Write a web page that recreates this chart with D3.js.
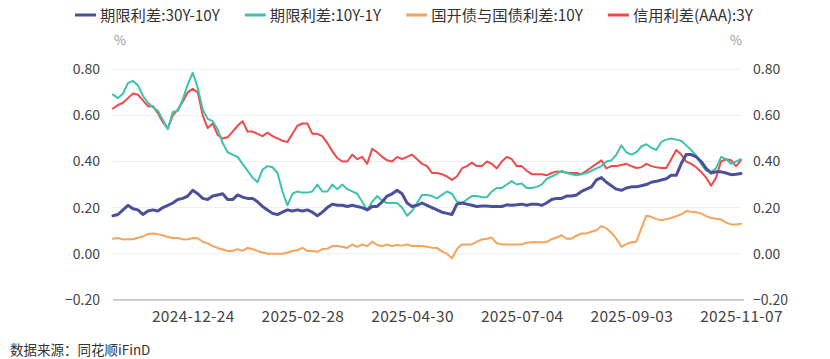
<!DOCTYPE html>
<html><head><meta charset="utf-8">
<script src="https://cdn.jsdelivr.net/npm/d3@7/dist/d3.min.js"></script>
<style>
html,body{margin:0;padding:0;background:#fff;}
svg{display:block;font-family:"Noto Sans CJK SC","Noto Sans",sans-serif;}
</style></head>
<body><svg id="c" width="830" height="359"></svg>
<script>
const seriesNames = ["期限利差:30Y-10Y","期限利差:10Y-1Y","国开债与国债利差:10Y","信用利差(AAA):3Y"];
const seriesColors = ["#4B509A","#3EC2AE","#F6A35B","#EF4A4A"];
const xTickIndex = [16,38,60,82,104,126];
const xTickLabels = ["2024-12-24","2025-02-28","2025-04-30","2025-07-04","2025-09-03","2025-11-07"];
const yTicks = [-0.2,0,0.2,0.4,0.6,0.8];
const sourceText = "数据来源：同花顺iFinD";

const spread30y10y = [
0.165,0.17,0.19,0.21,0.195,0.19,0.17,0.185,0.19,0.185,0.20,0.21,0.22,0.235,0.24,0.25,0.275,0.26,0.24,0.235,0.25,0.255,
0.26,0.235,0.235,0.255,0.245,0.24,0.24,0.225,0.205,0.19,0.175,0.17,0.18,0.19,0.185,0.19,0.185,0.19,0.18,0.165,0.18,
0.20,0.215,0.21,0.21,0.205,0.21,0.205,0.20,0.19,0.205,0.205,0.225,0.25,0.26,0.275,0.26,0.22,0.205,0.21,0.22,0.21,
0.20,0.19,0.18,0.175,0.17,0.215,0.22,0.215,0.21,0.205,0.207,0.207,0.205,0.205,0.205,0.212,0.21,0.212,0.215,0.21,0.215,
0.215,0.21,0.22,0.235,0.24,0.24,0.25,0.25,0.255,0.27,0.28,0.29,0.32,0.33,0.31,0.295,0.28,0.275,0.285,0.29,0.29,
0.295,0.30,0.31,0.314,0.32,0.325,0.34,0.34,0.39,0.43,0.43,0.42,0.40,0.37,0.35,0.355,0.355,0.35,0.343,0.345,0.348];

const spread10y1y = [
0.69,0.675,0.695,0.74,0.75,0.73,0.685,0.655,0.635,0.62,0.58,0.54,0.615,0.62,0.67,0.735,0.785,0.72,0.625,0.585,0.575,0.54,
0.48,0.44,0.43,0.42,0.39,0.36,0.33,0.31,0.365,0.38,0.375,0.35,0.27,0.21,0.26,0.27,0.265,0.265,0.27,0.30,0.27,
0.27,0.30,0.28,0.30,0.28,0.27,0.26,0.225,0.19,0.225,0.25,0.23,0.22,0.22,0.22,0.20,0.165,0.185,0.22,0.255,0.255,
0.25,0.24,0.255,0.27,0.26,0.225,0.22,0.235,0.25,0.25,0.245,0.245,0.27,0.285,0.285,0.30,0.315,0.30,0.305,0.285,0.285,
0.29,0.30,0.325,0.335,0.345,0.36,0.35,0.345,0.34,0.345,0.35,0.36,0.37,0.38,0.40,0.405,0.43,0.47,0.44,0.43,0.44,
0.465,0.475,0.46,0.45,0.485,0.495,0.50,0.495,0.49,0.47,0.45,0.425,0.39,0.36,0.355,0.37,0.42,0.41,0.39,0.40,0.41];

const cdbSpread10y = [
0.065,0.068,0.062,0.063,0.063,0.069,0.075,0.085,0.088,0.085,0.08,0.072,0.068,0.068,0.062,0.063,0.068,0.067,0.052,0.045,0.033,0.025,
0.018,0.012,0.012,0.02,0.012,0.025,0.02,0.012,0.005,0.0,0.0,0.0,0.0,0.005,0.012,0.015,0.025,0.012,0.012,0.008,0.02,
0.022,0.033,0.033,0.03,0.025,0.04,0.03,0.04,0.033,0.052,0.038,0.033,0.04,0.033,0.038,0.035,0.04,0.033,0.033,0.033,0.03,
0.026,0.025,0.01,0.0,-0.02,0.02,0.04,0.04,0.04,0.052,0.062,0.065,0.07,0.045,0.04,0.04,0.04,0.04,0.04,0.048,0.05,
0.05,0.05,0.05,0.063,0.07,0.08,0.065,0.065,0.078,0.088,0.088,0.095,0.102,0.12,0.11,0.09,0.065,0.03,0.042,0.05,0.052,
0.11,0.165,0.16,0.15,0.145,0.15,0.155,0.163,0.17,0.185,0.182,0.18,0.175,0.163,0.155,0.152,0.148,0.135,0.127,0.127,0.13];

const creditAAA3y = [
0.63,0.645,0.655,0.675,0.695,0.69,0.665,0.64,0.64,0.61,0.57,0.545,0.60,0.625,0.66,0.70,0.715,0.70,0.60,0.545,0.565,0.515,
0.50,0.505,0.53,0.555,0.575,0.53,0.53,0.52,0.51,0.525,0.51,0.50,0.49,0.485,0.52,0.555,0.565,0.565,0.52,0.52,0.51,
0.48,0.445,0.415,0.40,0.40,0.43,0.41,0.42,0.39,0.455,0.44,0.42,0.405,0.40,0.42,0.41,0.42,0.43,0.41,0.39,0.38,
0.35,0.35,0.345,0.335,0.32,0.335,0.37,0.38,0.395,0.38,0.38,0.40,0.39,0.37,0.40,0.42,0.41,0.38,0.38,0.36,0.345,
0.345,0.345,0.34,0.35,0.357,0.355,0.352,0.35,0.35,0.345,0.36,0.375,0.39,0.405,0.37,0.38,0.38,0.385,0.39,0.38,0.372,
0.375,0.39,0.38,0.375,0.372,0.372,0.41,0.45,0.43,0.40,0.39,0.375,0.355,0.33,0.295,0.33,0.40,0.41,0.405,0.38,0.405];

const allSeries = [spread30y10y, spread10y1y, cdbSpread10y, creditAAA3y];
const lineWidths = [3,2,2,2];

const svg = d3.select("#c");
const plotL = 113, plotR = 741, plotT = 69.3, plotB = 299.8;
const n = spread30y10y.length;
const x = d3.scaleLinear().domain([0, n-1]).range([plotL, plotR]);
const y = d3.scaleLinear().domain([-0.2, 0.8]).range([plotB, plotT]);
const FONT = '"Noto Sans CJK SC","Noto Sans",sans-serif';

svg.append("g").selectAll("line").data(yTicks.filter(d=>d>-0.2)).join("line")
  .attr("x1", plotL).attr("x2", plotR)
  .attr("y1", d=>y(d)).attr("y2", d=>y(d))
  .attr("stroke", "#EEEEF5").attr("stroke-width", 1);

svg.append("line").attr("x1", plotL).attr("x2", plotR+3)
  .attr("y1", y(-0.2)).attr("y2", y(-0.2))
  .attr("stroke", "#A9B0C6").attr("stroke-width", 1.2);

const fmt = d3.format(".2f");
const yl = svg.append("g").attr("transform", `translate(${plotL-13},0)`)
  .call(d3.axisLeft(y).tickValues(yTicks).tickFormat(fmt).tickSize(0));
yl.select(".domain").remove();
yl.selectAll("text").attr("font-size", 14).attr("fill", "#444").attr("x", 0).attr("font-family", FONT);
const yr = svg.append("g").attr("transform", `translate(${plotR+12},0)`)
  .call(d3.axisRight(y).tickValues(yTicks).tickFormat(fmt).tickSize(0));
yr.select(".domain").remove();
yr.selectAll("text").attr("font-size", 14).attr("fill", "#444").attr("x", 0).attr("font-family", FONT);

const xa = svg.append("g").attr("transform", `translate(0,${plotB+8})`)
  .call(d3.axisBottom(x).tickValues(xTickIndex).tickFormat((d,i)=>xTickLabels[i]).tickSize(0));
xa.select(".domain").remove();
xa.selectAll("text").attr("font-size", 15.5).attr("letter-spacing", 0.3).attr("fill", "#444").attr("font-family", FONT);

svg.append("text").attr("x", 120).attr("y", 45).attr("text-anchor","middle")
  .attr("font-size", 13).attr("fill", "#999").text("%");
svg.append("text").attr("x", 736).attr("y", 45).attr("text-anchor","middle")
  .attr("font-size", 13).attr("fill", "#999").text("%");

const line = d3.line().x((d,i)=>x(i)).y(d=>y(d)).curve(d3.curveLinear);
const drawOrder = [2,3,1,0];
drawOrder.forEach(k=>{
  svg.append("path").datum(allSeries[k]).attr("d", line)
    .attr("fill","none").attr("stroke", seriesColors[k])
    .attr("stroke-width", lineWidths[k]).attr("stroke-linejoin","round").attr("stroke-linecap","round");
});

const lg = svg.append("g");
let cx = 0;
seriesNames.forEach((name,k)=>{
  const g = lg.append("g").attr("transform", `translate(${cx},0)`);
  g.append("line").attr("x1",0).attr("x2",21).attr("y1",15).attr("y2",15)
    .attr("stroke", seriesColors[k]).attr("stroke-width",3);
  const t = g.append("text").attr("x",25).attr("y",20.5).attr("font-size",15.3)
    .attr("fill","#333").text(name);
  const w = t.node().getComputedTextLength();
  cx += 25 + w + 25;
});
const total = cx - 25;
lg.attr("transform", `translate(${(830-total)/2 - 1},0)`);

svg.append("text").attr("x", 10).attr("y", 355).attr("font-size", 13.5)
  .attr("fill", "#333").text(sourceText);
</script>
</body></html>
